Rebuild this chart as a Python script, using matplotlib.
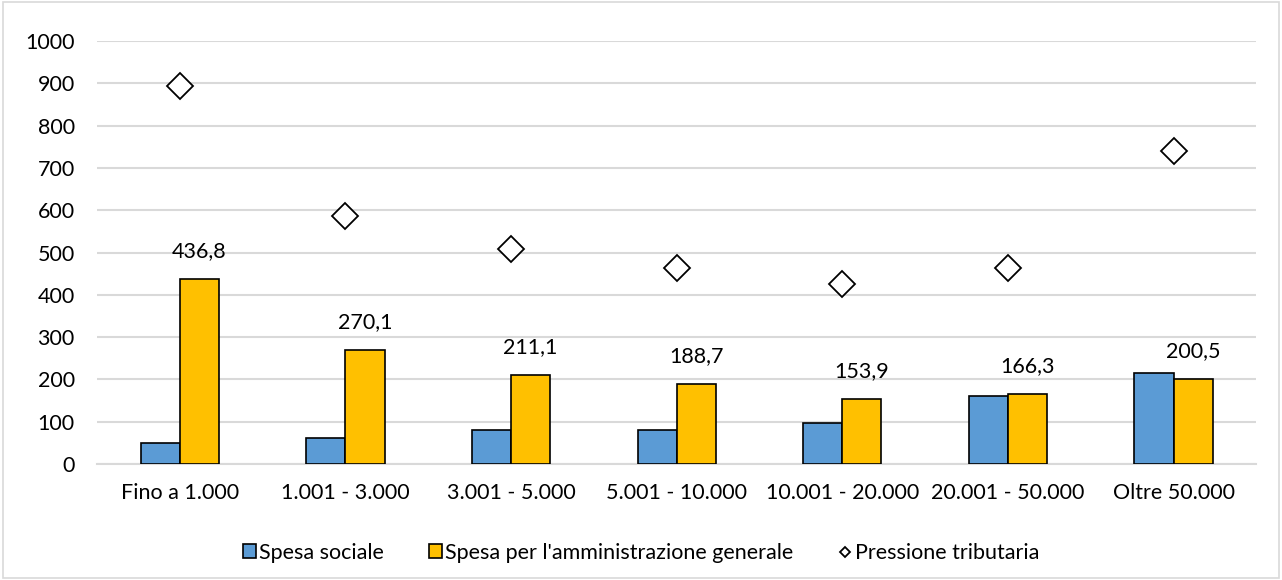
import numpy as np
import matplotlib.pyplot as plt
from matplotlib.patches import Rectangle

plt.rcParams['font.family'] = ['Lato', 'DejaVu Sans']

categorie = ['Fino a 1.000', '1.001 - 3.000', '3.001 - 5.000', '5.001 - 10.000',
             '10.001 - 20.000', '20.001 - 50.000', 'Oltre 50.000']
spesa_sociale = [49, 61, 81, 81, 96, 161, 215]
spesa_amm = [436.8, 270.1, 211.1, 188.7, 153.9, 166.3, 200.5]
pressione = [893, 587, 508, 463, 426, 463, 740]
etichette_amm = ['436,8', '270,1', '211,1', '188,7', '153,9', '166,3', '200,5']

blu = '#5b9bd5'
giallo = '#ffc000'

fig = plt.figure(figsize=(12.82, 5.8), dpi=100)
ax = fig.add_axes([0.0757, 0.2, 0.9043, 0.7293])
fig.patches.append(Rectangle((0.002, 0.003), 0.996, 0.994, transform=fig.transFigure,
                             fill=False, edgecolor='#d9d9d9', linewidth=1.2))

x = np.arange(len(categorie))
w = 0.236
h1 = ax.bar(x - w / 2, spesa_sociale, w, color=blu, edgecolor='black', linewidth=1.2,
            label='Spesa sociale', zorder=3)
h2 = ax.bar(x + w / 2, spesa_amm, w, color=giallo, edgecolor='black', linewidth=1.2,
            label="Spesa per l'amministrazione generale", zorder=3)
h3, = ax.plot(x, pressione, linestyle='none', marker='D', markersize=13.5,
              markerfacecolor='white', markeredgecolor='black', markeredgewidth=1.3,
              label='Pressione tributaria', zorder=4)

for xi, v, t in zip(x, spesa_amm, etichette_amm):
    ax.annotate(t, (xi + w / 2, v), xytext=(0, 20), textcoords='offset points',
                ha='center', va='center', fontsize=15.5, color='#000000')

ax.set_xlim(-0.5, len(categorie) - 0.5)
ax.set_ylim(0, 1000)
ax.set_yticks(range(0, 1001, 100))
ax.set_xticks(x)
ax.set_xticklabels(categorie)
ax.tick_params(axis='both', length=0, labelsize=15.5, colors='#000000')
ax.tick_params(axis='x', pad=14)
ax.tick_params(axis='y', pad=16)
ax.grid(axis='y', color='#d9d9d9', linewidth=1.5, zorder=0)
for s in ['top', 'right', 'left']:
    ax.spines[s].set_visible(False)
ax.spines['bottom'].set_color('#d9d9d9')
ax.spines['bottom'].set_linewidth(1.5)

leg = fig.legend([h1, h2, h3],
                 ['Spesa sociale', "Spesa per l'amministrazione generale", 'Pressione tributaria'],
                 loc='center', bbox_to_anchor=(0.5, 0.047), ncol=3, frameon=False,
                 fontsize=15.5, handlelength=0.6, handleheight=0.6, handletextpad=0.15,
                 columnspacing=2.1, markerscale=0.38)

fig.savefig('out.png', dpi=100)
